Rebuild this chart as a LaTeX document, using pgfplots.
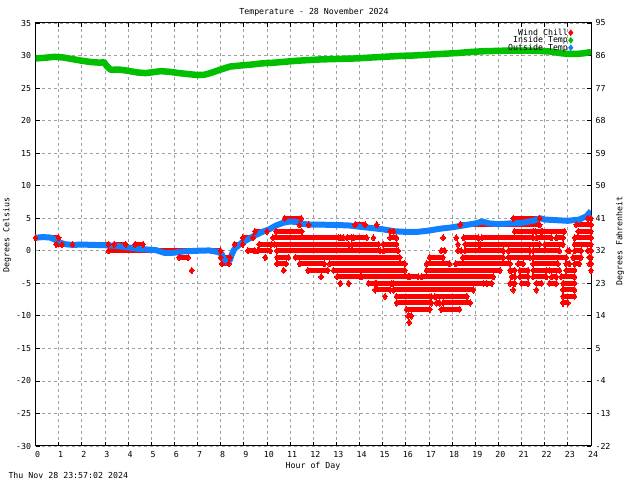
\documentclass[border=0pt]{standalone}
\usepackage{fontspec}
\setmainfont{DejaVu Sans Mono}
\usepackage{pgfplots}
\pgfplotsset{compat=1.18}
\definecolor{wc}{RGB}{255,0,0}
\definecolor{it}{RGB}{0,192,0}
\definecolor{ot}{RGB}{16,128,255}
\definecolor{gridc}{RGB}{160,160,160}
\newcommand\tf{\fontsize{8.3}{8}\selectfont}
\begin{document}
\begin{tikzpicture}[x=1bp,y=1bp]
\useasboundingbox (0,0) rectangle (640,480);
\begin{axis}[
  at={(35.5bp,34bp)}, anchor=south west,
  scale only axis, width=555.5bp, height=423bp,
  xmin=0, xmax=24, ymin=-30, ymax=35,
  xtick={0,...,24}, ytick={-30,-25,...,35},
  grid=major,
  major grid style={gridc, dash pattern=on 3bp off 3bp, line width=0.8bp},
  tick align=inside, major tick length=4bp,
  tick style={black, line width=0.8bp},
  axis line style={black, line width=1bp},
  ticklabel style={font=\tf},
  /pgf/number format/assume math mode=true,
  xticklabel style={yshift=-1.5bp, xshift=2bp},
  yticklabel style={xshift=-1bp},
  extra y ticks={0}, extra y tick labels={},
  extra y tick style={grid style={solid, black, line width=1bp}, major tick length=0pt},
  unbounded coords=jump,
  legend style={at={(0.968,0.988)}, anchor=north east, draw=none, fill=none,
    font=\tf, row sep=-1.5bp, inner sep=0pt, nodes={inner sep=0.6bp}},
  legend cell align=right, legend plot pos=right,
]
\addlegendimage{only marks, mark=diamond*, wc, mark size=3bp}
\addlegendentry{Wind Chill}
\addlegendimage{only marks, mark=diamond*, it, mark size=3bp}
\addlegendentry{Inside Temp}
\addlegendimage{only marks, mark=diamond*, ot, mark size=3bp}
\addlegendentry{Outside Temp}

% Wind chill: runs of readings at whole degrees
\addplot[wc, line width=4.8bp, mark=diamond*, mark size=3.2bp, mark options={line width=0pt}, forget plot] table {
x y
10.76 5
11.48 5
nan nan
20.64 5
21.78 5
nan nan
23.86 5
24 5
nan nan
11.4 4
11.8 4
nan nan
13.81 4
14.24 4
nan nan
14.74 4
nan nan
18.35 4
21.78 4
nan nan
23.36 4
24 4
nan nan
9.48 3
10.0 3
nan nan
10.39 3
11.5 3
nan nan
15.32 3
15.46 3
nan nan
20.7 3
21.5 3
nan nan
21.6 3
21.85 3
nan nan
21.9 3
22.85 3
nan nan
23.45 3
24 3
nan nan
0 2
1.0 2
nan nan
8.95 2
9.4 2
nan nan
10.26 2
13.1 2
nan nan
13.17 2
13.31 2
nan nan
13.46 2
13.67 2
nan nan
13.74 2
14.31 2
nan nan
14.6 2
nan nan
15.32 2
15.6 2
nan nan
17.61 2
nan nan
18.18 2
nan nan
18.49 2
19.14 2
nan nan
19.28 2
21.5 2
nan nan
21.64 2
22.29 2
nan nan
22.5 2
22.79 2
nan nan
23.29 2
24 2
nan nan
0.9 1
1.15 1
nan nan
1.6 1
3.15 1
nan nan
3.4 1
3.9 1
nan nan
4.3 1
4.65 1
nan nan
8.6 1
8.95 1
nan nan
9.66 1
10.19 1
nan nan
10.33 1
13.53 1
nan nan
13.67 1
14.82 1
nan nan
15.03 1
15.6 1
nan nan
18.25 1
nan nan
18.56 1
19.14 1
nan nan
19.21 1
21.78 1
nan nan
22.0 1
22.79 1
nan nan
23.29 1
24 1
nan nan
3.15 0
8.0 0
nan nan
9.18 0
9.47 0
nan nan
9.6 0
10.15 0
nan nan
10.43 0
14.89 0
nan nan
15.03 0
15.67 0
nan nan
17.53 0
17.68 0
nan nan
18.25 0
18.39 0
nan nan
18.56 0
20.21 0
nan nan
20.43 0
21.36 0
nan nan
21.5 0
22.64 0
nan nan
23.0 0
23.07 0
nan nan
23.29 0
23.57 0
nan nan
23.86 0
24 0
nan nan
6.2 -1
6.6 -1
nan nan
8.0 -1
8.4 -1
nan nan
9.93 -1
nan nan
10.43 -1
10.93 -1
nan nan
11.23 -1
15.74 -1
nan nan
17.03 -1
17.61 -1
nan nan
18.46 -1
20.21 -1
nan nan
20.43 -1
21.36 -1
nan nan
21.5 -1
22.93 -1
nan nan
23.22 -1
23.57 -1
nan nan
23.93 -1
24 -1
nan nan
8.05 -2
8.35 -2
nan nan
10.43 -2
10.83 -2
nan nan
11.41 -2
12.48 -2
nan nan
12.7 -2
15.96 -2
nan nan
16.89 -2
17.89 -2
nan nan
18.15 -2
20.5 -2
nan nan
20.85 -2
21.07 -2
nan nan
21.5 -2
22.57 -2
nan nan
22.93 -2
23.07 -2
nan nan
23.29 -2
23.5 -2
nan nan
23.93 -2
24 -2
nan nan
6.75 -3
nan nan
10.72 -3
nan nan
11.77 -3
12.63 -3
nan nan
12.88 -3
15.96 -3
nan nan
16.89 -3
20.07 -3
nan nan
20.5 -3
20.71 -3
nan nan
20.93 -3
21.28 -3
nan nan
21.5 -3
22.07 -3
nan nan
22.21 -3
22.64 -3
nan nan
22.93 -3
23.29 -3
nan nan
24 -3
nan nan
12.34 -4
nan nan
13.03 -4
14.03 -4
nan nan
14.1 -4
16.1 -4
nan nan
16.17 -4
16.53 -4
nan nan
16.67 -4
19.78 -4
nan nan
20.57 -4
20.71 -4
nan nan
20.93 -4
21.28 -4
nan nan
21.5 -4
22.07 -4
nan nan
22.29 -4
22.5 -4
nan nan
22.71 -4
23.29 -4
nan nan
13.17 -5
nan nan
13.53 -5
nan nan
14.39 -5
14.67 -5
nan nan
14.74 -5
15.39 -5
nan nan
15.46 -5
19.35 -5
nan nan
19.49 -5
19.71 -5
nan nan
20.5 -5
20.71 -5
nan nan
21.0 -5
21.28 -5
nan nan
21.64 -5
21.86 -5
nan nan
22.21 -5
22.5 -5
nan nan
22.79 -5
23.29 -5
nan nan
14.67 -6
15.32 -6
nan nan
15.46 -6
18.92 -6
nan nan
20.64 -6
nan nan
21.64 -6
nan nan
22.79 -6
23.29 -6
nan nan
15.1 -7
nan nan
15.6 -7
17.1 -7
nan nan
17.25 -7
18.64 -7
nan nan
22.79 -7
23.29 -7
nan nan
15.6 -8
17.1 -8
nan nan
17.32 -8
17.46 -8
nan nan
17.61 -8
18.78 -8
nan nan
22.79 -8
23.0 -8
nan nan
16.03 -9
17.03 -9
nan nan
17.53 -9
18.32 -9
nan nan
16.1 -10
16.24 -10
nan nan
16.15 -11
};

% Inside temperature
\addplot[it, line width=6.5bp, line join=round, forget plot] coordinates {
(0,29.55) (0.4,29.65) (0.8,29.8) (1.2,29.7) (1.6,29.45) (2.0,29.2) (2.4,29.0)
(2.8,28.9) (2.95,29.0) (3.1,28.3) (3.25,27.8) (3.6,27.85) (4.0,27.65) (4.4,27.4)
(4.75,27.3) (5.0,27.4) (5.4,27.6) (5.8,27.5) (6.2,27.3) (6.6,27.15) (7.0,27.0)
(7.3,27.05) (7.6,27.35) (8.0,27.85) (8.4,28.3) (8.8,28.45) (9.3,28.6) (9.8,28.8)
(10.3,28.9) (10.8,29.05) (11.3,29.2) (11.8,29.3) (12.3,29.4) (12.8,29.45) (13.3,29.5)
(13.8,29.55) (14.3,29.65) (14.8,29.75) (15.3,29.85) (15.8,29.95) (16.3,30.0) (16.8,30.1)
(17.3,30.2) (17.8,30.3) (18.3,30.4) (18.8,30.55) (19.3,30.65) (19.8,30.7) (20.3,30.75)
(20.8,30.75) (21.3,30.75) (21.8,30.7) (22.3,30.6) (22.6,30.4) (23.0,30.25) (23.4,30.25)
(23.7,30.35) (24,30.55)
};

% Outside temperature
\addplot[ot, line width=6bp, line join=round, forget plot] coordinates {
(0,2.0) (0.3,2.1) (0.6,2.05) (0.8,1.8) (1.0,1.3) (1.3,1.0) (1.6,0.9) (2.0,0.95)
(2.5,0.9) (3.0,0.85) (3.3,0.8) (3.6,0.7) (4.0,0.5) (4.4,0.3) (4.8,0.2) (5.2,0.1)
(5.6,-0.35) (6.0,-0.3) (6.4,-0.1) (7.0,0.0) (7.5,0.05) (7.9,-0.2) (8.05,-0.5)
(8.15,-1.5) (8.25,-1.8) (8.4,-1.4) (8.5,-0.4) (8.6,0.3) (8.9,1.2) (9.2,1.8) (9.5,2.4)
(9.8,2.9) (10.1,3.3) (10.4,3.9) (10.7,4.3) (11.0,4.5) (11.3,4.4) (11.6,4.1) (12.0,4.0)
(12.5,4.0) (13.0,3.95) (13.5,3.9) (14.0,3.7) (14.5,3.5) (15.0,3.3) (15.5,3.0) (16.0,2.9)
(16.5,2.9) (17.0,3.1) (17.5,3.4) (18.0,3.6) (18.5,3.9) (19.0,4.2) (19.3,4.5) (19.6,4.2)
(20.0,4.1) (20.5,4.2) (21.0,4.3) (21.5,4.6) (21.8,5.0) (22.0,4.8) (22.5,4.7) (23.0,4.6)
(23.5,4.8) (23.8,5.3) (24.0,6.1)
};
\end{axis}
\begin{axis}[
  at={(35.5bp,34bp)}, anchor=south west,
  scale only axis, width=555.5bp, height=423bp,
  xmin=0, xmax=24, ymin=-22, ymax=95,
  ytick={-22,-13,...,95},
  axis y line*=right, hide x axis,
  y axis line style={draw=none},
  major tick length=0pt,
  ticklabel style={font=\tf},
  /pgf/number format/assume math mode=true,
  yticklabel style={xshift=1bp},
]
\end{axis}
\node[font=\tf] at (314,468) {Temperature - 28 November 2024};
\node[font=\tf] at (313,14) {Hour of Day};
\node[font=\tf, anchor=west] at (5,5) {Thu Nov 28 23:57:02 2024};
\node[font=\tf, rotate=90] at (7,245) {Degrees Celsius};
\node[font=\tf, rotate=90] at (620,239) {Degrees Fahrenheit};
\end{tikzpicture}
\end{document}
